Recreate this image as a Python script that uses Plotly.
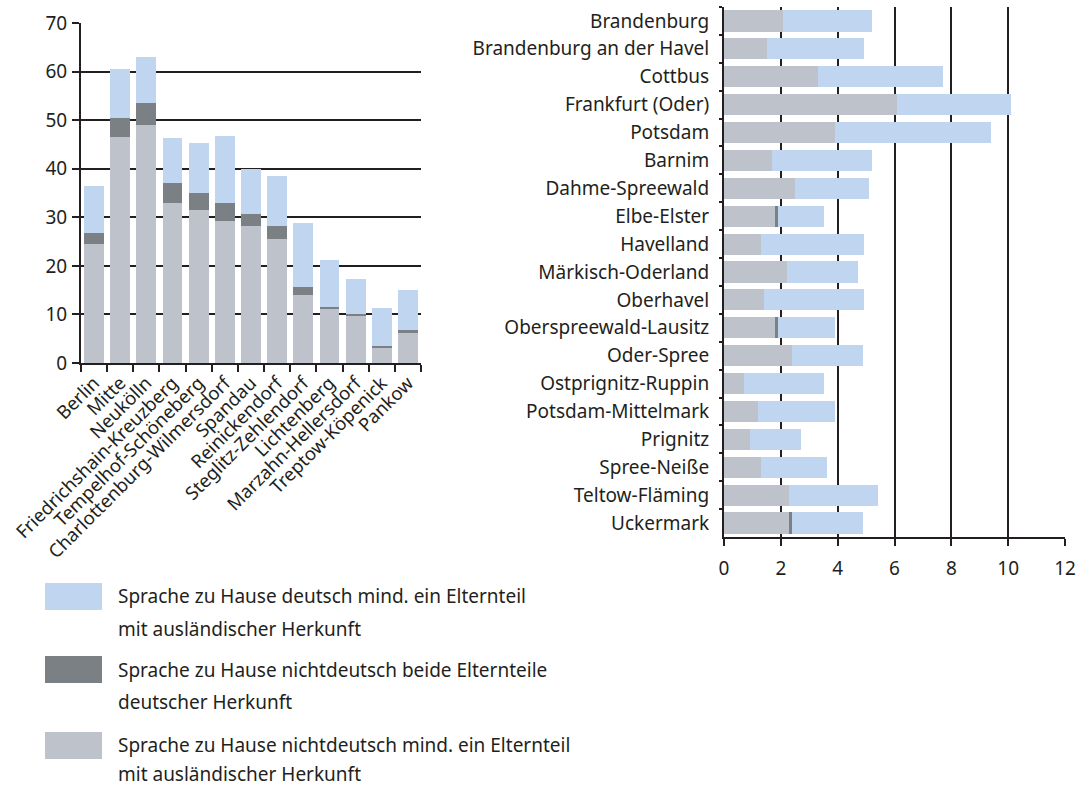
import plotly.graph_objects as go

# ---- Data: Berlin districts (left chart) ----
berlin_cats = ["Berlin", "Mitte", "Neukölln", "Friedrichshain-Kreuzberg", "Tempelhof-Schöneberg",
               "Charlottenburg-Wilmersdorf", "Spandau", "Reinickendorf", "Steglitz-Zehlendorf",
               "Lichtenberg", "Marzahn-Hellersdorf", "Treptow-Köpenick", "Pankow"]
berlin_nd_ausl = [24.4, 46.5, 48.9, 33.0, 31.4, 29.3, 28.3, 25.6, 14.1, 11.2, 9.8, 3.2, 6.2]
berlin_nd_dt = [2.4, 4.0, 4.7, 4.1, 3.5, 3.7, 2.4, 2.7, 1.6, 0.4, 0.2, 0.2, 0.5]
berlin_d_ausl = [9.7, 10.1, 9.5, 9.3, 10.3, 13.8, 9.3, 10.1, 13.2, 9.7, 7.2, 8.0, 8.4]

# ---- Data: Brandenburg (right chart) ----
bb_cats = ["Brandenburg", "Brandenburg an der Havel", "Cottbus", "Frankfurt (Oder)", "Potsdam",
           "Barnim", "Dahme-Spreewald", "Elbe-Elster", "Havelland", "Märkisch-Oderland",
           "Oberhavel", "Oberspreewald-Lausitz", "Oder-Spree", "Ostprignitz-Ruppin",
           "Potsdam-Mittelmark", "Prignitz", "Spree-Neiße", "Teltow-Fläming", "Uckermark"]
bb_nd_ausl = [2.08, 1.51, 3.31, 6.09, 3.90, 1.69, 2.50, 1.81, 1.30, 2.22,
              1.40, 1.81, 2.40, 0.70, 1.20, 0.90, 1.30, 2.29, 2.29]
bb_nd_dt = [0.0, 0.0, 0.0, 0.0, 0.0, 0.0, 0.0, 0.09, 0.0, 0.0,
            0.0, 0.09, 0.0, 0.0, 0.0, 0.0, 0.0, 0.0, 0.11]
bb_d_ausl = [3.13, 3.42, 4.40, 4.02, 5.50, 3.52, 2.61, 1.62, 3.63, 2.50,
             3.53, 2.01, 2.50, 2.82, 2.71, 1.81, 2.33, 3.13, 2.50]

legend_lines = [
    ["Sprache zu Hause deutsch mind. ein Elternteil", "mit ausländischer Herkunft"],
    ["Sprache zu Hause nichtdeutsch beide Elternteile", "deutscher Herkunft"],
    ["Sprache zu Hause nichtdeutsch mind. ein Elternteil", "mit ausländischer Herkunft"],
]

C_LIGHT = "#BEC2CA"
C_DARK = "#7B8084"
C_BLUE = "#C0D6F0"
FONT = "Noto Sans"
TXT = "#231F20"
FS = 19

fig = go.Figure()

# Left chart
fig.add_trace(go.Bar(x=berlin_cats, y=berlin_nd_ausl, marker_color=C_LIGHT, marker_line_width=0,
                     xaxis="x", yaxis="y", showlegend=False))
fig.add_trace(go.Bar(x=berlin_cats, y=berlin_nd_dt, marker_color=C_DARK, marker_line_width=0,
                     xaxis="x", yaxis="y", showlegend=False))
fig.add_trace(go.Bar(x=berlin_cats, y=berlin_d_ausl, marker_color=C_BLUE, marker_line_width=0,
                     xaxis="x", yaxis="y", showlegend=False))

# Right chart
fig.add_trace(go.Bar(y=bb_cats, x=bb_nd_ausl, orientation="h", marker_color=C_LIGHT, marker_line_width=0,
                     xaxis="x2", yaxis="y2", showlegend=False))
fig.add_trace(go.Bar(y=bb_cats, x=bb_nd_dt, orientation="h", marker_color=C_DARK, marker_line_width=0,
                     xaxis="x2", yaxis="y2", showlegend=False))
fig.add_trace(go.Bar(y=bb_cats, x=bb_d_ausl, orientation="h", marker_color=C_BLUE, marker_line_width=0,
                     xaxis="x2", yaxis="y2", showlegend=False))

W, H = 1080, 787

fig.update_layout(
    width=W, height=H,
    margin=dict(l=0, r=0, t=0, b=0),
    paper_bgcolor="white", plot_bgcolor="rgba(0,0,0,0)",
    barmode="stack", bargap=0.24,
    font=dict(family=FONT, size=FS, color=TXT),
    showlegend=False,
    xaxis=dict(domain=[81 / W, 421 / W], anchor="y", type="category", automargin=False,
               tickangle=-45, tickson="boundaries", ticks="outside", ticklen=7,
               tickwidth=2, tickcolor="#231F20",
               showline=True, linecolor="#231F20", linewidth=2,
               tickfont=dict(size=18.5, family=FONT, color=TXT), showgrid=False),
    yaxis=dict(domain=[1 - 363 / H, 1 - 23 / H], anchor="x", range=[0, 70], automargin=False,
               dtick=10, ticks="outside", ticklen=7, tickwidth=2, tickcolor="#231F20",
               ticklabelstandoff=1,
               showline=True, linecolor="#231F20", linewidth=2,
               showgrid=True, gridcolor="#231F20", gridwidth=1.5,
               zeroline=False, tickfont=dict(size=FS, family=FONT, color=TXT)),
    xaxis2=dict(domain=[724 / W, 1065 / W], anchor="y2", range=[0, 12], dtick=2, automargin=False,
                ticks="outside", ticklen=7, tickwidth=2, tickcolor="#231F20",
                ticklabelstandoff=6,
                showline=True, linecolor="#231F20", linewidth=2,
                showgrid=True, gridcolor="#231F20", gridwidth=1.5, zeroline=False,
                tickfont=dict(size=FS, family=FONT, color=TXT)),
    yaxis2=dict(domain=[1 - 537 / H, 1 - 7 / H], anchor="x2", type="category", automargin=False,
                autorange="reversed", tickson="boundaries", ticks="outside", ticklen=3,
                tickwidth=2, tickcolor="#231F20", ticklabelstandoff=9,
                showline=True, linecolor="#231F20", linewidth=2, showgrid=False,
                tickfont=dict(size=FS, family=FONT, color=TXT)),
)

# Legend drawn manually
legend_colors = [C_BLUE, C_DARK, C_LIGHT]
sw_top = [583, 656, 732]
line_y = [(596, 629), (670, 702), (745, 774)]
for col, top, lines, ly in zip(legend_colors, sw_top, legend_lines, line_y):
    fig.add_shape(type="rect", xref="paper", yref="paper",
                  x0=45 / W, x1=102 / W, y0=1 - (top + 27) / H, y1=1 - top / H,
                  fillcolor=col, line_width=0)
    for txt, yy in zip(lines, ly):
        fig.add_annotation(xref="paper", yref="paper", x=116 / W, y=1 - yy / H,
                           xanchor="left", yanchor="middle", text=txt, showarrow=False,
                           align="left", font=dict(size=FS, family=FONT, color=TXT))

fig.write_html("out.html", config={"displayModeBar": False},
               post_script="document.body.style.margin='0';document.body.style.padding='0';")
